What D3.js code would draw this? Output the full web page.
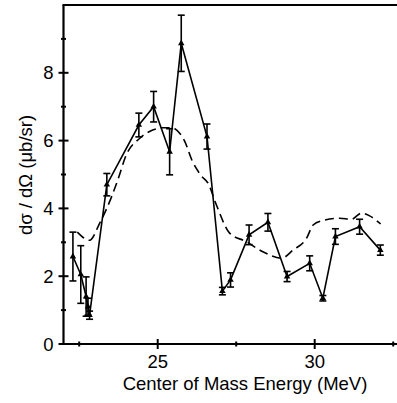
<!DOCTYPE html>
<html>
<head>
<meta charset="utf-8">
<script src="https://cdn.jsdelivr.net/npm/d3@7"></script>
<style>
  body { margin: 0; background: #fff; }
  svg { display: block; font-family: "Liberation Sans", Arial, sans-serif; }
</style>
</head>
<body>
<svg id="chart" width="397" height="403"></svg>
<script>
// measured cross sections (MeV, ub/sr) with symmetric errors
const energy = [22.30, 22.55, 22.72, 22.78, 22.83, 23.38, 24.40, 24.87, 25.38, 25.75, 26.57, 27.06, 27.32, 27.91, 28.51, 29.12, 29.84, 30.26, 30.66, 31.43, 32.09];
const sigma  = [2.58, 2.05, 1.40, 1.10, 0.85, 4.70, 6.46, 7.00, 5.67, 8.87, 6.12, 1.56, 1.89, 3.22, 3.59, 1.99, 2.38, 1.35, 3.17, 3.46, 2.77];
const sigmaErr = [0.72, 0.85, 0.58, 0.25, 0.12, 0.33, 0.35, 0.45, 0.68, 0.83, 0.37, 0.11, 0.21, 0.29, 0.26, 0.15, 0.22, 0.08, 0.23, 0.22, 0.15];

// model curve (dashed)
const modelE = [22.44, 22.83, 23.15, 23.53, 23.73, 24.00, 24.43, 24.84, 25.16, 25.44, 25.70, 25.85, 26.10, 26.40, 26.60, 26.87, 27.29, 27.82, 28.35, 28.94, 29.31, 29.74, 29.95, 30.26, 30.80, 31.17, 31.49, 31.75, 32.10];
const modelS = [3.30, 3.06, 3.56, 4.34, 4.84, 5.58, 6.07, 6.31, 6.38, 6.38, 6.22, 6.00, 5.40, 4.95, 4.75, 4.10, 3.27, 3.02, 2.72, 2.53, 2.77, 3.12, 3.51, 3.64, 3.71, 3.68, 3.86, 3.78, 3.54];

const xMajor = [25, 30];
const xMinor = [22.5, 27.5, 32.5];
const yMajor = [0, 2, 4, 6, 8];
const yMinor = [1, 3, 5, 7, 9];

const svg = d3.select("#chart");
const plotLeft = 63.5, plotBottom = 344, plotTop = 5, plotRight = 397;

const x = d3.scaleLinear().domain([22, 33]).range([plotLeft, plotLeft + 11 * 31.4]);
const y = d3.scaleLinear().domain([0, 10]).range([plotBottom, plotTop]);

// frame: left, bottom, top
svg.append("line").attr("x1", plotLeft).attr("x2", plotLeft).attr("y1", plotTop).attr("y2", plotBottom)
  .attr("stroke", "#000").attr("stroke-width", 2.2);
svg.append("line").attr("x1", plotLeft).attr("x2", plotRight).attr("y1", plotBottom).attr("y2", plotBottom)
  .attr("stroke", "#000").attr("stroke-width", 2.2);
svg.append("line").attr("x1", plotLeft - 1).attr("x2", plotRight).attr("y1", plotTop).attr("y2", plotTop)
  .attr("stroke", "#000").attr("stroke-width", 2.2);

// y ticks
svg.selectAll(".ymaj").data(yMajor).enter().append("line")
  .attr("x1", plotLeft - 5).attr("x2", plotLeft + 5)
  .attr("y1", d => y(d)).attr("y2", d => y(d))
  .attr("stroke", "#000").attr("stroke-width", 2);
svg.selectAll(".ymin").data(yMinor).enter().append("line")
  .attr("x1", plotLeft - 2.5).attr("x2", plotLeft + 2.5)
  .attr("y1", d => y(d)).attr("y2", d => y(d))
  .attr("stroke", "#000").attr("stroke-width", 2);
svg.selectAll(".ylab").data(yMajor).enter().append("text")
  .attr("x", plotLeft - 10).attr("y", d => y(d))
  .attr("dy", "0.36em").attr("text-anchor", "end")
  .attr("font-size", 18.5).text(d => d);

// x ticks
svg.selectAll(".xmaj").data(xMajor).enter().append("line")
  .attr("x1", d => x(d)).attr("x2", d => x(d))
  .attr("y1", plotBottom - 5).attr("y2", plotBottom + 5)
  .attr("stroke", "#000").attr("stroke-width", 2);
svg.selectAll(".xmin").data(xMinor).enter().append("line")
  .attr("x1", d => x(d)).attr("x2", d => x(d))
  .attr("y1", plotBottom - 2.5).attr("y2", plotBottom + 2.5)
  .attr("stroke", "#000").attr("stroke-width", 2);
svg.selectAll(".xlab").data(xMajor).enter().append("text")
  .attr("x", d => x(d)).attr("y", 368)
  .attr("text-anchor", "middle")
  .attr("font-size", 18.5).text(d => d);

// axis titles
svg.append("text").attr("x", 245).attr("y", 390)
  .attr("text-anchor", "middle").attr("font-size", 18.5)
  .text("Center of Mass Energy (MeV)");
svg.append("text")
  .attr("transform", "translate(32,175) rotate(-90)")
  .attr("text-anchor", "middle").attr("font-size", 18.5)
  .text("dσ / dΩ (μb/sr)");

// model curve
const model = modelE.map((e, i) => ({ e, s: modelS[i] }));
svg.append("path").datum(model)
  .attr("fill", "none").attr("stroke", "#000").attr("stroke-width", 1.6)
  .attr("stroke-dasharray", "9,5")
  .attr("d", d3.line().x(d => x(d.e)).y(d => y(d.s)).curve(d3.curveMonotoneX));

// data
const pts = energy.map((e, i) => ({ e, s: sigma[i], err: sigmaErr[i] }));
svg.append("path").datum(pts)
  .attr("fill", "none").attr("stroke", "#000").attr("stroke-width", 1.6)
  .attr("d", d3.line().x(d => x(d.e)).y(d => y(d.s)));

const eb = svg.selectAll(".eb").data(pts).enter().append("g");
eb.append("line")
  .attr("x1", d => x(d.e)).attr("x2", d => x(d.e))
  .attr("y1", d => y(d.s + d.err)).attr("y2", d => y(d.s - d.err))
  .attr("stroke", "#000").attr("stroke-width", 1.6);
eb.append("line")
  .attr("x1", d => x(d.e) - 3.5).attr("x2", d => x(d.e) + 3.5)
  .attr("y1", d => y(d.s + d.err)).attr("y2", d => y(d.s + d.err))
  .attr("stroke", "#000").attr("stroke-width", 1.6);
eb.append("line")
  .attr("x1", d => x(d.e) - 3.5).attr("x2", d => x(d.e) + 3.5)
  .attr("y1", d => y(d.s - d.err)).attr("y2", d => y(d.s - d.err))
  .attr("stroke", "#000").attr("stroke-width", 1.6);

svg.selectAll(".pt").data(pts).enter().append("path")
  .attr("transform", d => `translate(${x(d.e)},${y(d.s)})`)
  .attr("d", d3.symbol().type(d3.symbolTriangle).size(18))
  .attr("fill", "#000");
</script>
</body>
</html>
